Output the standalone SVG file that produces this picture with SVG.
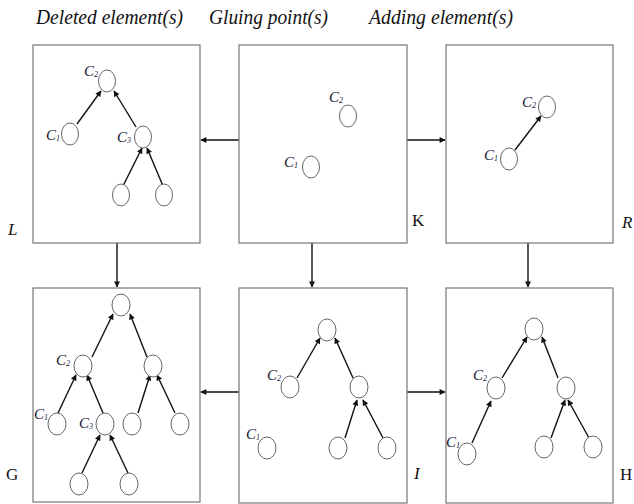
<svg xmlns="http://www.w3.org/2000/svg" width="634" height="504" viewBox="0 0 634 504">
<style>
.box{fill:#fff;stroke:#777;stroke-width:1.2}
.n{fill:#fff;stroke:#666;stroke-width:1}
.e{stroke:#111;stroke-width:1.4;fill:none;marker-end:url(#ah)}
.t{font-family:"Times New Roman","Liberation Serif","DejaVu Serif",serif;font-style:italic;font-size:20px;fill:#111}
.lbl{font-family:"Times New Roman","Liberation Serif","DejaVu Serif",serif;font-style:italic;font-size:15px;fill:#141430}
.sub{font-size:8px}
.bl{font-family:"Liberation Serif",serif;font-size:17px;fill:#111}
.bi{font-family:"Times New Roman","Liberation Serif","DejaVu Serif",serif;font-style:italic;font-size:17px;fill:#111}
</style>
<defs>
<marker id="ah" viewBox="0 0 10 10" refX="9" refY="5" markerWidth="7" markerHeight="6" markerUnits="userSpaceOnUse" orient="auto">
<path d="M0,0 L10,5 L0,10 z" fill="#111"/>
</marker>
</defs>
<rect width="634" height="504" fill="#fff"/>
<text class="t" x="36" y="24" textLength="147" lengthAdjust="spacingAndGlyphs">Deleted element(s)</text>
<text class="t" x="209" y="24" textLength="119" lengthAdjust="spacingAndGlyphs">Gluing point(s)</text>
<text class="t" x="369" y="24" textLength="144" lengthAdjust="spacingAndGlyphs">Adding element(s)</text>

<g id="connectors">
<line class="e" x1="239" y1="140" x2="201" y2="140"/>
<line class="e" x1="407" y1="140" x2="445" y2="140"/>
<line class="e" x1="117" y1="243" x2="117" y2="287"/>
<line class="e" x1="312" y1="243" x2="312" y2="287"/>
<line class="e" x1="528" y1="243" x2="528" y2="287"/>
<line class="e" x1="239" y1="392" x2="201" y2="392"/>
<line class="e" x1="407" y1="392" x2="445" y2="392"/>
</g>

<g id="L">
<rect class="box" x="33" y="45" width="167" height="198"/>
<line class="e" x1="77" y1="124" x2="101" y2="91"/>
<line class="e" x1="136" y1="127" x2="114" y2="91"/>
<line class="e" x1="123" y1="186" x2="142" y2="148"/>
<line class="e" x1="163" y1="186" x2="147" y2="148"/>
<ellipse class="n" cx="107" cy="81" rx="8.5" ry="11"/>
<ellipse class="n" cx="70" cy="134" rx="8.5" ry="11"/>
<ellipse class="n" cx="143" cy="137" rx="8.5" ry="11"/>
<ellipse class="n" cx="121" cy="195" rx="8.5" ry="11"/>
<ellipse class="n" cx="164" cy="195" rx="8.5" ry="11"/>
<text class="lbl" x="84" y="76">C<tspan class="sub" dy="1">2</tspan></text>
<text class="lbl" x="46" y="140">C<tspan class="sub" dy="1">1</tspan></text>
<text class="lbl" x="117" y="142">C<tspan class="sub" dy="1">3</tspan></text>
<text class="bi" x="8" y="235">L</text>
</g>

<g id="K">
<rect class="box" x="239" y="45" width="168" height="198"/>
<ellipse class="n" cx="348" cy="116" rx="8.5" ry="11"/>
<ellipse class="n" cx="311" cy="167" rx="8.5" ry="11"/>
<text class="lbl" x="329" y="102">C<tspan class="sub" dy="1">2</tspan></text>
<text class="lbl" x="284" y="167">C<tspan class="sub" dy="1">1</tspan></text>
<text class="bl" x="412" y="226">K</text>
</g>

<g id="R">
<rect class="box" x="446" y="45" width="167" height="198"/>
<line class="e" x1="515" y1="150" x2="541" y2="116"/>
<ellipse class="n" cx="547" cy="107" rx="8.5" ry="11"/>
<ellipse class="n" cx="509" cy="159" rx="8.5" ry="11"/>
<text class="lbl" x="522" y="107">C<tspan class="sub" dy="1">2</tspan></text>
<text class="lbl" x="484" y="160">C<tspan class="sub" dy="1">1</tspan></text>
<text class="bi" x="622" y="228">R</text>
</g>

<g id="G">
<rect class="box" x="33" y="288" width="167" height="214"/>
<line class="e" x1="92" y1="357" x2="113" y2="314"/>
<line class="e" x1="147" y1="357" x2="130" y2="314"/>
<line class="e" x1="58" y1="413" x2="76" y2="375"/>
<line class="e" x1="103" y1="413" x2="87" y2="375"/>
<line class="e" x1="138" y1="413" x2="150" y2="375"/>
<line class="e" x1="175" y1="413" x2="157" y2="375"/>
<line class="e" x1="82" y1="473" x2="100" y2="435"/>
<line class="e" x1="128" y1="473" x2="110" y2="435"/>
<ellipse class="n" cx="121" cy="305" rx="9" ry="11"/>
<ellipse class="n" cx="83" cy="366" rx="9" ry="11"/>
<ellipse class="n" cx="153" cy="366" rx="9" ry="11"/>
<ellipse class="n" cx="57" cy="424" rx="9" ry="11"/>
<ellipse class="n" cx="105" cy="424" rx="9" ry="11"/>
<ellipse class="n" cx="132" cy="424" rx="9" ry="11"/>
<ellipse class="n" cx="180" cy="424" rx="9" ry="11"/>
<ellipse class="n" cx="79" cy="484" rx="9" ry="11"/>
<ellipse class="n" cx="129" cy="484" rx="9" ry="11"/>
<text class="lbl" x="56" y="365">C<tspan class="sub" dy="1">2</tspan></text>
<text class="lbl" x="34" y="419">C<tspan class="sub" dy="1">1</tspan></text>
<text class="lbl" x="79" y="428">C<tspan class="sub" dy="1">3</tspan></text>
<text class="bl" x="6" y="480">G</text>
</g>

<g id="I">
<rect class="box" x="239" y="288" width="168" height="215"/>
<line class="e" x1="297" y1="378" x2="320" y2="338"/>
<line class="e" x1="353" y1="378" x2="335" y2="338"/>
<line class="e" x1="345" y1="438" x2="357" y2="400"/>
<line class="e" x1="383" y1="438" x2="363" y2="400"/>
<ellipse class="n" cx="327" cy="330" rx="9" ry="11"/>
<ellipse class="n" cx="290" cy="387" rx="9" ry="11"/>
<ellipse class="n" cx="359" cy="387" rx="9" ry="11"/>
<ellipse class="n" cx="267" cy="448" rx="9" ry="11"/>
<ellipse class="n" cx="338" cy="448" rx="9" ry="11"/>
<ellipse class="n" cx="387" cy="448" rx="9" ry="11"/>
<text class="lbl" x="267" y="380">C<tspan class="sub" dy="1">2</tspan></text>
<text class="lbl" x="246" y="439">C<tspan class="sub" dy="1">1</tspan></text>
<text class="bi" x="414" y="479">I</text>
</g>

<g id="H">
<rect class="box" x="446" y="288" width="167" height="215"/>
<line class="e" x1="502" y1="378" x2="527" y2="337"/>
<line class="e" x1="558" y1="378" x2="542" y2="337"/>
<line class="e" x1="472" y1="443" x2="491" y2="401"/>
<line class="e" x1="551" y1="438" x2="565" y2="400"/>
<line class="e" x1="589" y1="438" x2="568" y2="400"/>
<ellipse class="n" cx="534" cy="329" rx="9" ry="11"/>
<ellipse class="n" cx="496" cy="388" rx="9" ry="11"/>
<ellipse class="n" cx="566" cy="388" rx="9" ry="11"/>
<ellipse class="n" cx="467" cy="454" rx="9" ry="11"/>
<ellipse class="n" cx="544" cy="447" rx="9" ry="11"/>
<ellipse class="n" cx="593" cy="447" rx="9" ry="11"/>
<text class="lbl" x="473" y="380">C<tspan class="sub" dy="1">2</tspan></text>
<text class="lbl" x="446" y="447">C<tspan class="sub" dy="1">1</tspan></text>
<text class="bl" x="620" y="480">H</text>
</g>
</svg>
